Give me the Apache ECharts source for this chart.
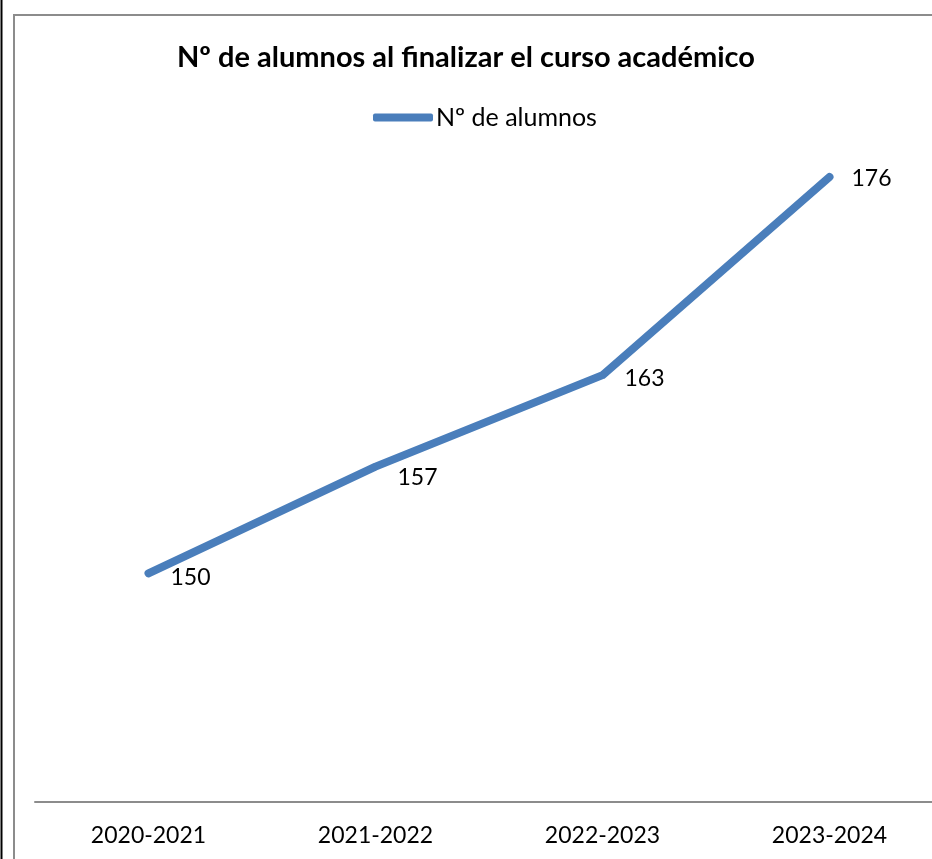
<!DOCTYPE html>
<html><head><meta charset="utf-8">
<script src="https://cdn.jsdelivr.net/npm/echarts@6/dist/echarts.min.js"></script>
<style>html,body{margin:0;padding:0;background:#fff}#c{width:932px;height:859px}</style>
</head><body><div id="c"></div>
<script>
const categories = ['2020-2021','2021-2022','2022-2023','2023-2024'];
const alumnos = [150,157,163,176];
const seriesName = 'Nº de alumnos';
const titleText = 'Nº de alumnos al finalizar el curso académico';
const labelDy = [4,11,3,2];
const FONT = 'Lato';
const chart = echarts.init(document.getElementById('c'), null, {renderer:'canvas'});
chart.setOption({
  animation:false,
  backgroundColor:'#fff',
  title:{text:titleText,left:'center',top:38,textStyle:{fontFamily:FONT,fontSize:29,fontWeight:'bold',color:'#000'}},
  legend:{top:105,left:373,padding:0,icon:'roundRect',itemWidth:60,itemHeight:8,itemGap:10,
    textStyle:{fontFamily:FONT,fontSize:25,color:'#000',padding:[0,0,0,-2]},data:[seriesName]},
  graphic:[
    {type:'rect',shape:{x:14,y:15,width:940,height:870},style:{fill:null,stroke:'#8c8c8c',lineWidth:2},silent:true},
    {type:'line',shape:{x1:1.5,y1:0,x2:1.5,y2:859},style:{stroke:'#000',lineWidth:2},silent:true}
  ],
  grid:{left:35,top:116,width:908,height:686,containLabel:false,outerBoundsMode:'none'},
  xAxis:{type:'category',data:categories,boundaryGap:true,
    axisLine:{lineStyle:{color:'#8c8c8c',width:2}},axisTick:{show:false},
    axisLabel:{fontFamily:FONT,fontSize:23,color:'#000',margin:22}},
  yAxis:{type:'value',min:135,max:180,interval:5,show:false,splitLine:{show:false}},
  series:[{name:seriesName,type:'line',
    data:alumnos.map((v,i)=>({value:v,label:{offset:[0,labelDy[i]]}})),
    showSymbol:true,symbol:'circle',symbolSize:0.01,
    lineStyle:{color:'#4a7ebb',width:8,cap:'round',join:'round'},itemStyle:{color:'#4a7ebb'},
    label:{show:true,position:'right',distance:22,fontFamily:FONT,fontSize:23,color:'#000'}}]
});
</script></body></html>
